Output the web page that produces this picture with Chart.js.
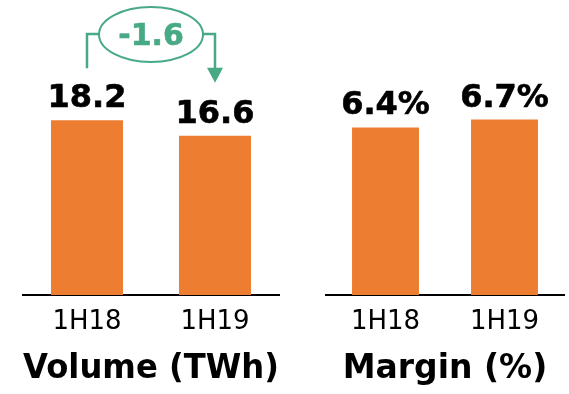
<!DOCTYPE html>
<html>
<head>
<meta charset="utf-8">
<script src="https://cdn.jsdelivr.net/npm/chart.js@4"></script>
<style>
  html, body { margin: 0; padding: 0; background: #fff; }
  #wrap { position: relative; width: 569px; height: 394px; overflow: hidden; }
  canvas { position: absolute; top: 0; }
  #volume { left: 0; }
  #margin { left: 300px; }
</style>
</head>
<body>
<div id="wrap">
  <canvas id="volume" width="300" height="394"></canvas>
  <canvas id="margin" width="269" height="394"></canvas>
</div>
<script>
// Half-year periods and the two measures shown per period
const periods = ['1H18', '1H19'];
const volumeTWh = [18.2, 16.6];
const marginPct = [6.4, 6.7];
const volumeTitle = 'Volume (TWh)';
const marginTitle = 'Margin (%)';

const FONT = '"DejaVu Sans", Verdana, sans-serif';
const ORANGE = '#ED7D31';
const GREEN = '#48A985';

// Value labels printed above each bar
const valueLabels = {
  id: 'valueLabels',
  afterDatasetsDraw(chart, args, opts) {
    const ctx = chart.ctx;
    const meta = chart.getDatasetMeta(0);
    const data = chart.data.datasets[0].data;
    ctx.save();
    ctx.font = 'bold 32px ' + FONT;
    ctx.fillStyle = '#000';
    ctx.strokeStyle = '#000';
    ctx.lineWidth = 0.6;
    ctx.textAlign = 'center';
    ctx.textBaseline = 'alphabetic';
    meta.data.forEach((bar, i) => {
      const txt = data[i].toFixed(1) + (opts.suffix || '');
      ctx.fillText(txt, bar.x, bar.y - 13);
      ctx.strokeText(txt, bar.x, bar.y - 13);
    });
    ctx.restore();
  }
};

// Bracket arrow with the period-on-period change in an ellipse
const changeMarker = {
  id: 'changeMarker',
  afterDatasetsDraw(chart) {
    const ctx = chart.ctx;
    const meta = chart.getDatasetMeta(0);
    const a = meta.data[0], b = meta.data[1];
    const diff = volumeTWh[1] - volumeTWh[0];
    const lineY = 34;
    const cx = (a.x + b.x) / 2, cy = 34.5, rx = 52, ry = 27.5;
    const tipY = b.y - 53, headH = 15, headW = 8;
    ctx.save();
    ctx.strokeStyle = GREEN;
    ctx.fillStyle = GREEN;
    ctx.lineWidth = 2.5;
    ctx.beginPath();
    ctx.moveTo(a.x, a.y - 52);
    ctx.lineTo(a.x, lineY);
    ctx.lineTo(cx - rx, lineY);
    ctx.moveTo(cx + rx, lineY);
    ctx.lineTo(b.x, lineY);
    ctx.lineTo(b.x, tipY - headH + 1);
    ctx.stroke();
    ctx.beginPath();
    ctx.moveTo(b.x - headW, tipY - headH);
    ctx.lineTo(b.x + headW, tipY - headH);
    ctx.lineTo(b.x, tipY);
    ctx.closePath();
    ctx.fill();
    ctx.lineWidth = 2;
    ctx.beginPath();
    ctx.ellipse(cx, cy, rx, ry, 0, 0, Math.PI * 2);
    ctx.stroke();
    ctx.font = 'bold 30px ' + FONT;
    ctx.textAlign = 'center';
    ctx.textBaseline = 'alphabetic';
    ctx.lineWidth = 0.6;
    ctx.fillText(diff.toFixed(1), cx, 45);
    ctx.strokeText(diff.toFixed(1), cx, 45);
    ctx.restore();
  }
};

function panel(canvasId, values, title, yMax, pad, suffix, extraPlugins) {
  return new Chart(document.getElementById(canvasId), {
    type: 'bar',
    data: {
      labels: periods,
      datasets: [{
        data: values,
        backgroundColor: ORANGE,
        borderWidth: 0,
        categoryPercentage: 1,
        barPercentage: 0.5625
      }]
    },
    options: {
      responsive: false,
      animation: false,
      devicePixelRatio: 1,
      layout: { padding: pad },
      plugins: {
        legend: { display: false },
        tooltip: { enabled: false },
        valueLabels: { suffix: suffix }
      },
      scales: {
        x: {
          grid: { display: false, drawTicks: false },
          border: { display: true, color: '#000', width: 2 },
          ticks: { color: '#000', padding: 12, font: { family: FONT, size: 26 } },
          title: {
            display: true,
            text: title,
            color: '#000',
            padding: { top: 0, bottom: 5 },
            font: { family: FONT, size: 33, weight: 'bold' }
          },
          afterFit(scale) { scale.height = 99; }
        },
        y: { display: false, min: 0, max: yMax }
      }
    },
    plugins: [valueLabels].concat(extraPlugins)
  });
}

panel('volume', volumeTWh, volumeTitle, 30, { left: 23, right: 21, top: 7, bottom: 0 }, '', [changeMarker]);
panel('margin', marginPct, marginTitle, 11, { left: 26, right: 5, top: 7, bottom: 0 }, '%', []);
</script>
</body>
</html>
